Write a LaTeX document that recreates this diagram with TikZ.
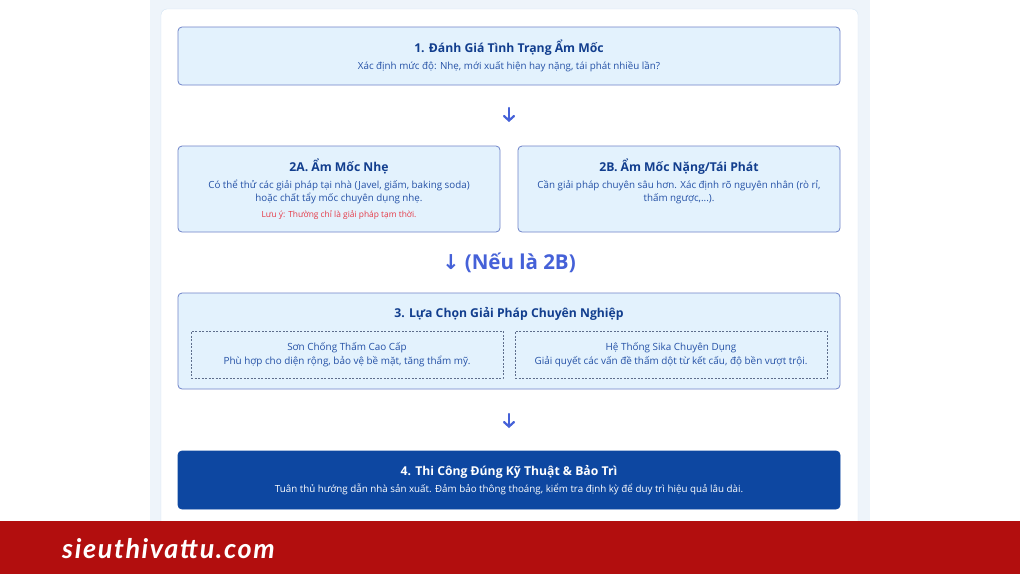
\documentclass[tikz,border=0pt]{standalone}
\usepackage{fontspec}
\setmainfont{Open Sans}
\newfontfamily\arrowfont{DejaVu Sans Bold}
\newfontfamily\logofont[LetterSpace=6]{Lato}
\usetikzlibrary{shapes}
\usetikzlibrary{arrows.meta}
\definecolor{stripbg}{HTML}{EEF4FA}
\definecolor{cardline}{HTML}{D3E4F4}
\definecolor{boxfill}{HTML}{E3F2FD}
\definecolor{boxline}{HTML}{6F83C9}
\definecolor{dashline}{HTML}{5E6E8C}
\definecolor{headblue}{HTML}{123E8E}
\definecolor{bodyblue}{HTML}{2451A6}
\definecolor{notered}{HTML}{E53946}
\definecolor{flowblue}{HTML}{4561D8}
\definecolor{finalblue}{HTML}{0D47A1}
\definecolor{brandred}{HTML}{B20E0E}
\newcommand\headfont{\fontsize{12.2}{14}\selectfont\bfseries}
\newcommand\notefont{\fontsize{8.4}{10}\selectfont\color{notered}}

\begin{document}
\begin{tikzpicture}[x=1pt,y=-1pt]
	\tikzstyle{stepbox}=[rectangle,draw=boxline,fill=boxfill,rounded corners=4pt,line width=0.8pt,align=center,inner sep=0pt,text=bodyblue,font=\fontsize{9.8}{13}\selectfont]
	\tikzstyle{finalbox}=[stepbox,draw=finalblue,fill=finalblue,text=white]
	\tikzstyle{optbox}=[rectangle,draw=dashline,dash pattern=on 2pt off 1.5pt,line width=0.6pt,align=center,inner sep=0pt,minimum width=312,minimum height=47,text=bodyblue,font=\fontsize{9.9}{13}\selectfont]
	\tikzstyle{headline}=[inner sep=0pt,text=headblue,font=\headfont]
	\tikzstyle{flowarrow}=[draw=flowblue,line width=2.2pt,line cap=round,-{Straight Barb[length=4.5pt,width=10pt,line cap=round]}]
	\tikzstyle{ifnote}=[inner sep=0pt,text=flowblue,font=\fontsize{20.5}{22}\selectfont\bfseries]
	\tikzstyle{logo}=[inner sep=0pt,anchor=west,text=white,font=\logofont\bfseries\itshape\fontsize{27}{30}\selectfont]

	\useasboundingbox (0,0) rectangle (1020,574);
	\fill[white] (0,0) rectangle (1020,574);
	\fill[stripbg] (150,0) rectangle (870,521);
	\draw[cardline,fill=white,rounded corners=6pt] (161,9) rectangle (858,532);

	\node[stepbox,minimum width=662,minimum height=58] (s1) at (509,56)
		{{\headfont\color{headblue}1. Đánh Giá Tình Trạng Ẩm Mốc}\\[4pt]Xác định mức độ: Nhẹ, mới xuất hiện hay nặng, tái phát nhiều lần?};
	\coordinate (a1t) at (509,108);
	\coordinate (a1b) at (509,122);
	\draw[flowarrow] (a1t) -- (a1b);

	\node[stepbox,minimum width=322,minimum height=86] (s2a) at (339,189)
		{{\headfont\color{headblue}2A. Ẩm Mốc Nhẹ}\\[4pt]Có thể thử các giải pháp tại nhà (Javel, giấm, baking soda)\\hoặc chất tẩy mốc chuyên dụng nhẹ.\\[3pt]{\notefont Lưu ý: Thường chỉ là giải pháp tạm thời.}};
	\node[stepbox,minimum width=322,minimum height=86] (s2b) at (679,189)
		{{\headfont\color{headblue}2B. Ẩm Mốc Nặng/Tái Phát}\\[4pt]Cần giải pháp chuyên sâu hơn. Xác định rõ nguyên nhân (rò rỉ,\\thấm ngược,...).\\[3pt]{\notefont\phantom{Lưu ý}}};

	\node[ifnote] (cond) at (509,263) {{\arrowfont ↓} (Nếu là 2B)};

	\node[stepbox,minimum width=662,minimum height=96] (s3) at (509,341) {};
	\node[headline] (s3t) at (509,314) {3. Lựa Chọn Giải Pháp Chuyên Nghiệp};
	\node[optbox] (o1) at (347,354.5) {Sơn Chống Thấm Cao Cấp\\[1pt]Phù hợp cho diện rộng, bảo vệ bề mặt, tăng thẩm mỹ.};
	\node[optbox] (o2) at (671,354.5) {Hệ Thống Sika Chuyên Dụng\\[1pt]Giải quyết các vấn đề thấm dột từ kết cấu, độ bền vượt trội.};
	\coordinate (a2t) at (509,414);
	\coordinate (a2b) at (509,428);
	\draw[flowarrow] (a2t) -- (a2b);

	\node[finalbox,minimum width=662,minimum height=58] (s4) at (509,480)
		{{\headfont 4. Thi Công Đúng Kỹ Thuật \& Bảo Trì}\\[4pt]Tuân thủ hướng dẫn nhà sản xuất. Đảm bảo thông thoáng, kiểm tra định kỳ để duy trì hiệu quả lâu dài.};

	\fill[brandred] (0,521) rectangle (1020,574);
	\node[logo] (site) at (62,549) {sieuthivattu.com};
\end{tikzpicture}
\end{document}
